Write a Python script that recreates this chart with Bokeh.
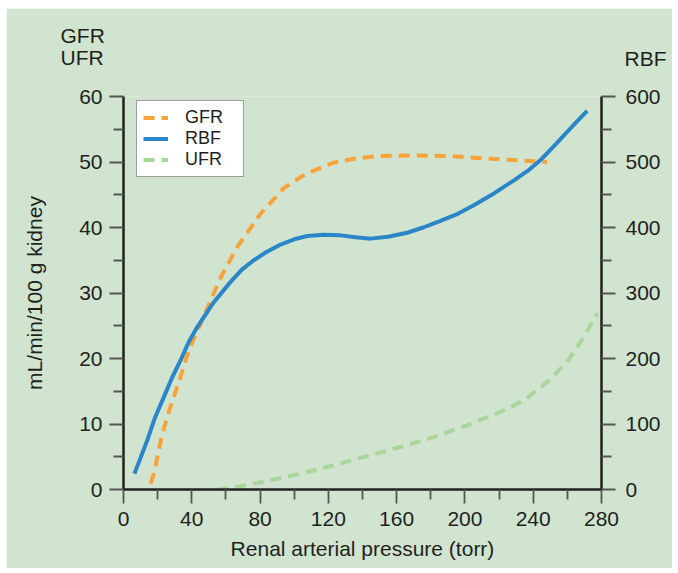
from bokeh.plotting import figure
from bokeh.models import (Range1d, LinearAxis, FixedTicker, Legend, LegendItem, Label)
from bokeh.embed import file_html
from bokeh.resources import INLINE

# ---- data ----
pressure_rbf = [6.4, 13.9, 18.5, 23.6, 28.5, 33.4, 38, 43.2, 52.9, 62.7, 69.5, 76.3, 84, 92, 100,
                107.6, 117.3, 127.1, 136, 144.7, 155, 166.2, 175.5, 185.7, 195, 205.2, 217,
                228.7, 236.5, 244.3, 252, 259.9, 265.7, 271.6]
rbf = [24, 75, 110, 141, 171, 197, 224, 248, 286, 317, 336, 350, 363, 374, 382,
       387, 389, 388, 385, 383, 386, 392, 400, 410, 420, 434, 452,
       472, 486, 503, 524, 546, 562, 578]

pressure_gfr = [15.8, 17.8, 22.7, 27.5, 33.4, 38.3, 45.1, 52, 56.8, 66.6, 80.3, 93.9, 103.7,
                111.5, 123.2, 135, 148.6, 168.1, 191.6, 220.9, 248.2]
gfr = [0.9, 2.4, 8.5, 12.6, 17.2, 21.3, 25.3, 29.4, 32.3, 37.0, 42.1, 46.0, 47.7,
       48.7, 49.9, 50.5, 50.9, 51.0, 50.9, 50.4, 50.0]

pressure_ufr = [55, 68.5, 84.2, 103.7, 123.2, 142.8, 162.3, 181.8, 201.3, 220.9, 234.5,
                248.2, 259.9, 269.7, 277.5]
ufr = [0, 0.5, 1.3, 2.4, 3.7, 5.1, 6.5, 8.0, 9.8, 11.85, 13.6, 16.4, 19.5, 23.3, 26.9]

x_ticks = [0, 40, 80, 120, 160, 200, 240, 280]
x_minor = [20, 60, 100, 140, 180, 220, 260]
left_ticks = [0, 10, 20, 30, 40, 50, 60]
left_minor = [5, 15, 25, 35, 45, 55]
right_ticks = [0, 100, 200, 300, 400, 500, 600]
right_minor = [50, 150, 250, 350, 450, 550]

# ---- style ----
BG = "#D0E4D0"
TXT = "#231F20"
ORANGE = "#F8A23A"
BLUE = "#2A86C8"
GREEN = "#A9D69A"
FONT = "Liberation Sans"

p = figure(width=666, height=560, frame_width=478, frame_height=393,
           x_range=Range1d(0, 280), y_range=Range1d(0, 60),
           output_backend="svg", toolbar_location=None,
           min_border_left=117, min_border_right=71, min_border_top=88, min_border_bottom=79,
           background_fill_color=BG, border_fill_color=BG, outline_line_color=None)
p.margin = (8, 0, 0, 6)
p.extra_y_ranges = {"rbf": Range1d(0, 600)}
p.xgrid.visible = False
p.ygrid.visible = False


def style_axis(ax, ticks, minor):
    ax.ticker = FixedTicker(ticks=ticks, minor_ticks=minor)
    ax.axis_line_color = TXT
    ax.axis_line_width = 2.5
    ax.major_tick_line_color = "#555555"
    ax.major_tick_line_width = 1.8
    ax.minor_tick_line_color = "#555555"
    ax.minor_tick_line_width = 1.8
    ax.major_tick_in = 0
    ax.major_tick_out = 14
    ax.minor_tick_in = 0
    ax.minor_tick_out = 10
    ax.major_label_text_font = FONT
    ax.major_label_text_font_size = "21px"
    ax.major_label_text_color = TXT
    ax.axis_label_text_font = FONT
    ax.axis_label_text_font_size = "21px"
    ax.axis_label_text_font_style = "normal"
    ax.axis_label_text_color = TXT


xa = p.xaxis[0]
style_axis(xa, x_ticks, x_minor)
xa.axis_label = "Renal arterial pressure (torr)"
xa.major_label_standoff = 8
xa.axis_label_standoff = 8

ya = p.yaxis[0]
style_axis(ya, left_ticks, left_minor)
ya.axis_label = "mL/min/100 g kidney"
ya.major_label_standoff = 7
ya.axis_label_standoff = 30

ra = LinearAxis(y_range_name="rbf")
style_axis(ra, right_ticks, right_minor)
ra.major_label_standoff = 10
p.add_layout(ra, "right")

r_gfr = p.line(pressure_gfr, gfr, line_color=ORANGE, line_width=4, line_dash="11 7")
r_rbf = p.line(pressure_rbf, rbf, line_color=BLUE, line_width=4, y_range_name="rbf")
r_ufr = p.line(pressure_ufr, ufr, line_color=GREEN, line_width=4, line_dash="11 7")

legend = Legend(items=[LegendItem(label="GFR", renderers=[r_gfr]),
                       LegendItem(label="RBF", renderers=[r_rbf]),
                       LegendItem(label="UFR", renderers=[r_ufr])],
                location=(13, 312), orientation="vertical",
                padding=6, spacing=0, margin=0,
                glyph_width=25, glyph_height=21, label_height=21, label_width=52,
                label_standoff=17,
                label_text_font=FONT, label_text_font_size="18px", label_text_color=TXT,
                background_fill_color="white", background_fill_alpha=1.0,
                border_line_color="#3A3A3A", border_line_width=1.5)
p.add_layout(legend, "center")

# captions above the axes, placed in the panel above the frame
# (each caption gets its own stacked panel; offsets are relative to that panel)
captions = ["GFR", "UFR", "RBF"]
cap_x = [-63, -63, 501]
cap_y = [61.4, 15.6, -8.4]
for txt, sx, sy in zip(captions, cap_x, cap_y):
    p.add_layout(Label(x=sx, y=sy, x_units="screen", y_units="screen", text=txt,
                       text_font=FONT, text_font_size="21px", text_color=TXT,
                       text_align="left", text_baseline="alphabetic"), "above")

open("out.html", "w").write(file_html(p, INLINE))
